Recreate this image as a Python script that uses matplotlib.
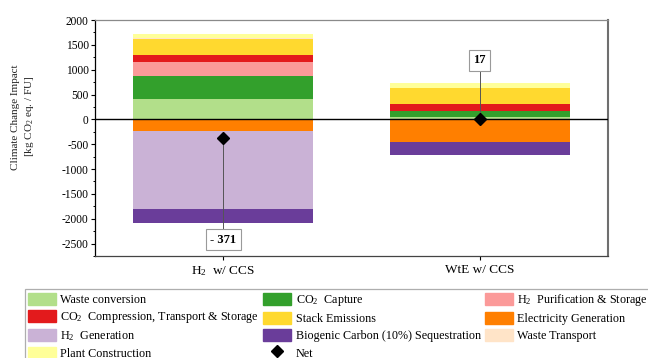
import matplotlib
matplotlib.use("Agg")
import matplotlib.pyplot as plt
from matplotlib.patches import Patch
from matplotlib.lines import Line2D
from matplotlib.ticker import MultipleLocator

plt.rcParams["font.family"] = ["Liberation Serif", "DejaVu Serif"]
plt.rcParams["mathtext.fontset"] = "custom"
plt.rcParams["mathtext.rm"] = "Liberation Serif"
plt.rcParams["mathtext.it"] = "Liberation Serif:italic"
plt.rcParams["axes.unicode_minus"] = False

# Scenario names
categories = ["H$_2$  w/ CCS", "WtE w/ CCS"]

# Contributions per life-cycle stage [kg CO2 eq. / FU]
waste_conversion = [415, 50]
co2_capture = [450, 110]
h2_purification = [295, 0]
co2_compression = [140, 140]
stack_emissions = [325, 330]
waste_transport = [10, 10]
plant_construction = [80, 96]
electricity_generation = [-235, -448]
h2_generation = [-1575, 0]
biogenic_sequestration = [-276, -271]

positive_stages = [
    ("Waste conversion", waste_conversion, "#B2DF8A"),
    ("CO$_2$  Capture", co2_capture, "#33A02C"),
    ("H$_2$  Purification & Storage", h2_purification, "#FB9A99"),
    ("CO$_2$  Compression, Transport & Storage", co2_compression, "#E31A1C"),
    ("Stack Emissions", stack_emissions, "#FFD92F"),
    ("Waste Transport", waste_transport, "#FFE4C8"),
    ("Plant Construction", plant_construction, "#FFFF99"),
]
negative_stages = [
    ("Electricity Generation", electricity_generation, "#FF7F00"),
    ("H$_2$  Generation", h2_generation, "#CAB2D6"),
    ("Biogenic Carbon (10%) Sequestration", biogenic_sequestration, "#6A3D9A"),
]

fig = plt.figure(figsize=(6.48, 3.58), dpi=100)
ax = fig.add_axes([0.1466, 0.2849, 0.7917, 0.6592])

x = list(range(len(categories)))
width = 0.70

handles = {}
for stages in (positive_stages, negative_stages):
    base = [0.0] * len(categories)
    for name, vals, color in stages:
        ax.bar(x, vals, width, bottom=base, color=color, linewidth=0, zorder=2)
        base = [b + v for b, v in zip(base, vals)]
        handles[name] = Patch(facecolor=color, edgecolor=color)

# Net impact per scenario
stage_lists = [s[1] for s in positive_stages + negative_stages]
net = [sum(s[i] for s in stage_lists) for i in range(len(categories))]

ax.axhline(0, color="black", lw=1.0, zorder=3)

label_y = [-2418, 1190]
for xi, n, ly in zip(x, net, label_y):
    ax.plot([xi, xi], [n, ly], color="#555555", lw=0.7, zorder=4)
    txt = f"- {abs(n)}" if n < 0 else f"{n}"
    ax.text(xi, ly, txt, ha="center", va="center", fontsize=9, fontweight="bold",
            zorder=6,
            bbox=dict(boxstyle="square,pad=0.35", fc="white", ec="#9a9a9a", lw=0.8))
ax.plot(x, net, linestyle="none", marker="D", color="black", markersize=6, zorder=5)
handles["Net"] = Line2D([], [], linestyle="none", marker="D", color="black", markersize=6)

ax.set_xlim(-0.5, 1.5)
ax.set_ylim(-2750, 2000)
ax.set_xticks(x)
ax.set_xticklabels(categories, fontsize=9.5)
ax.yaxis.set_major_locator(MultipleLocator(500))
ax.yaxis.set_minor_locator(MultipleLocator(250))
ax.tick_params(axis="y", which="major", direction="out", length=3, width=0.8, labelsize=8.3, pad=1.5)
ax.tick_params(axis="y", which="minor", direction="out", length=1.8, width=0.7)
ax.tick_params(axis="x", direction="out", length=3, width=0.8, pad=3)
ax.set_ylabel("Climate Change Impact\n[kg CO$_2$ eq. / FU]", fontsize=8.0,
              color="#222222", linespacing=1.4)
ax.yaxis.set_label_coords(-0.139, 0.59)
ax.yaxis.label.set_verticalalignment("center")

ax.spines["left"].set_color("black")
ax.spines["bottom"].set_color("#444444")
ax.spines["top"].set_color("#8a8a8a")
ax.spines["right"].set_color("#6f6f6f")
ax.spines["right"].set_linewidth(1.5)
for s in ("left", "bottom", "top"):
    ax.spines[s].set_linewidth(0.9)

order = [
    "Waste conversion", "CO$_2$  Compression, Transport & Storage", "H$_2$  Generation",
    "Plant Construction",
    "CO$_2$  Capture", "Stack Emissions", "Biogenic Carbon (10%) Sequestration", "Net",
    "H$_2$  Purification & Storage", "Electricity Generation", "Waste Transport",
]
leg = fig.legend([handles[k] for k in order], order, ncol=3, loc="upper left",
                 bbox_to_anchor=(25 / 648, 1 - 289 / 358), bbox_transform=fig.transFigure,
                 fontsize=8.75, frameon=True, fancybox=False, edgecolor="#9a9a9a",
                 borderpad=0.25, borderaxespad=0, handlelength=2.3, handleheight=1.15,
                 handletextpad=0.35, columnspacing=0.35, labelspacing=0.33)
leg.get_frame().set_linewidth(0.9)

fig.savefig("out.png", dpi=100)
